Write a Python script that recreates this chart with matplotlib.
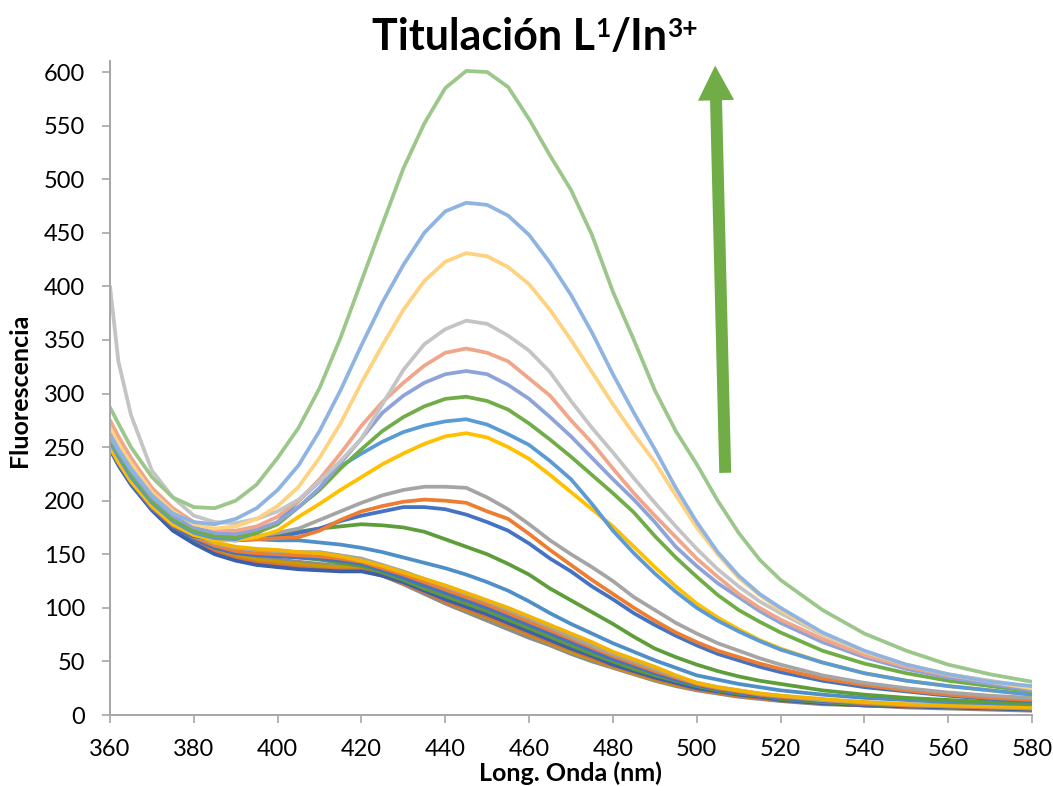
import matplotlib
matplotlib.use('Agg')
import matplotlib.pyplot as plt
from matplotlib.patches import FancyArrowPatch, ArrowStyle

# Wavelength grid (nm)
wl = [360, 362, 365, 370, 375, 380, 385, 390, 395, 400, 405, 410, 415, 420, 425, 430,
      435, 440, 445, 450, 455, 460, 465, 470, 475, 480, 485, 490, 495, 500, 505, 510,
      515, 520, 530, 540, 550, 560, 570, 580]

# Lower bunch (early titration points)
low_gold = [262, 246, 228, 202, 182, 170, 161, 157, 155, 154, 152, 151, 148, 144, 139, 133,
            127, 121, 114, 107, 100, 92, 84, 76, 68, 59, 52, 45, 37, 30, 26, 23,
            20, 18, 15, 12, 10, 9, 8, 7]
low_gray = [258, 243, 225, 200, 180, 168, 160, 156, 154, 153, 152, 152, 149, 146, 140, 134,
            127, 120, 113, 106, 98, 90, 82, 73, 65, 57, 50, 43, 36, 30, 26, 23,
            20, 18, 14, 12, 10, 9, 8, 7]
low_orange = [255, 240, 222, 197, 178, 166, 158, 153, 151, 150, 149, 148, 146, 143, 137, 131,
              124, 117, 110, 103, 95, 87, 79, 71, 63, 55, 48, 41, 35, 29, 25, 22,
              19, 17, 14, 11, 9, 8, 7, 6]
low_blue = [252, 237, 219, 195, 176, 164, 156, 151, 149, 148, 147, 146, 144, 141, 135, 128,
            121, 114, 107, 100, 92, 84, 76, 68, 60, 52, 46, 39, 33, 28, 24, 21,
            18, 16, 13, 11, 9, 8, 7, 6]
low_green = [254, 239, 221, 196, 177, 165, 157, 152, 150, 149, 147, 145, 142, 139, 133, 126,
             118, 111, 104, 97, 89, 81, 73, 65, 57, 50, 43, 37, 32, 27, 23, 20,
             18, 15, 12, 10, 9, 8, 7, 6]
low_dblue = [248, 233, 215, 191, 172, 160, 150, 144, 140, 138, 136, 135, 134, 134, 130, 124,
             116, 108, 101, 94, 86, 78, 70, 62, 55, 47, 41, 35, 30, 25, 22, 19,
             17, 14, 11, 9, 8, 7, 6, 5]
low_orange2 = [250, 235, 217, 193, 174, 161, 152, 146, 142, 140, 138, 136, 135, 135, 130, 123,
               115, 106, 99, 92, 84, 76, 68, 61, 53, 46, 40, 34, 29, 24, 21, 18,
               16, 14, 11, 9, 8, 7, 6, 5]
low_dgold = [251, 236, 218, 194, 175, 163, 154, 148, 145, 143, 141, 139, 138, 137, 132, 125,
             116, 106, 98, 91, 83, 75, 67, 59, 52, 45, 39, 33, 28, 24, 21, 18,
             16, 14, 11, 9, 8, 7, 6, 5]
low_gray2 = [253, 238, 220, 195, 176, 164, 155, 149, 146, 145, 143, 141, 139, 136, 130, 122,
             113, 104, 96, 88, 80, 72, 65, 57, 50, 44, 38, 32, 27, 23, 20, 17,
             15, 13, 10, 9, 7, 6, 5, 4]

# Intermediate curves
mid_blue2 = [252, 238, 220, 195, 178, 168, 165, 164, 164, 163, 163, 161, 159, 156, 152, 147,
             142, 137, 131, 124, 116, 106, 95, 85, 76, 67, 59, 51, 44, 37, 33, 29,
             26, 23, 19, 16, 14, 12, 11, 10]
mid_green2 = [250, 236, 218, 193, 176, 167, 164, 163, 165, 168, 171, 174, 176, 178, 177, 175,
              171, 164, 157, 150, 141, 131, 118, 107, 96, 85, 73, 62, 54, 47, 41, 36,
              32, 29, 23, 19, 16, 14, 12, 11]
mid_blue = [248, 234, 216, 192, 176, 167, 164, 163, 164, 166, 170, 174, 181, 186, 190, 194,
            194, 192, 187, 180, 172, 160, 146, 134, 120, 108, 95, 84, 74, 65, 57, 51,
            45, 40, 32, 26, 22, 18, 15, 13]
mid_orange = [250, 236, 218, 194, 177, 168, 165, 164, 164, 165, 166, 172, 182, 190, 195, 199,
              201, 200, 198, 190, 183, 169, 154, 140, 126, 113, 100, 88, 77, 68, 60, 54,
              48, 43, 34, 28, 23, 19, 16, 14]
mid_gray = [255, 241, 222, 197, 180, 170, 166, 166, 167, 170, 174, 182, 190, 198, 205, 210,
            213, 213, 212, 203, 192, 178, 163, 150, 138, 125, 110, 98, 86, 76, 67, 60,
            53, 47, 37, 30, 25, 21, 18, 16]

# Upper curves
up_gold = [250, 236, 218, 195, 178, 168, 163, 163, 166, 172, 185, 197, 210, 222, 234, 244,
           253, 260, 263, 259, 250, 239, 224, 208, 192, 176, 157, 138, 120, 104, 91, 80,
           70, 62, 49, 39, 32, 27, 23, 19]
up_blue = [255, 241, 222, 198, 181, 170, 165, 164, 170, 180, 200, 218, 232, 244, 255, 264,
           270, 274, 276, 271, 262, 252, 237, 220, 197, 172, 151, 132, 115, 100, 88, 78,
           69, 61, 49, 39, 32, 27, 23, 19]
up_green = [258, 244, 225, 200, 183, 172, 167, 166, 170, 178, 194, 210, 230, 248, 265, 278,
            288, 295, 297, 293, 285, 272, 257, 241, 224, 207, 189, 167, 147, 129, 112, 98,
            87, 77, 60, 48, 39, 32, 27, 22]
up_lavender = [260, 246, 228, 203, 186, 175, 170, 169, 173, 180, 194, 212, 235, 258, 282, 298,
               310, 318, 321, 318, 308, 295, 278, 260, 240, 220, 201, 180, 157, 139, 123, 110,
               97, 86, 68, 54, 43, 35, 29, 23]
up_salmon = [275, 260, 240, 212, 193, 180, 173, 172, 176, 185, 200, 220, 244, 270, 292, 310,
             326, 338, 342, 338, 330, 314, 298, 275, 254, 230, 207, 186, 166, 146, 129, 113,
             100, 89, 71, 56, 45, 37, 31, 25]
up_lgray = [400, 330, 280, 228, 203, 186, 180, 179, 183, 190, 201, 218, 237, 258, 290, 322,
            346, 360, 368, 365, 354, 340, 320, 293, 268, 245, 221, 198, 176, 155, 136, 120,
            106, 95, 75, 59, 47, 38, 32, 26]
up_lgold = [268, 253, 235, 208, 190, 178, 174, 176, 183, 195, 213, 240, 272, 310, 345, 378,
            405, 423, 431, 428, 418, 402, 378, 350, 320, 290, 262, 236, 205, 175, 150, 128,
            112, 98, 76, 59, 47, 38, 31, 25]
up_lblue = [262, 248, 230, 205, 188, 180, 178, 183, 193, 210, 233, 265, 303, 345, 385, 420,
            450, 470, 478, 476, 466, 448, 422, 392, 357, 318, 282, 248, 212, 180, 152, 130,
            113, 100, 77, 60, 47, 38, 31, 27]
up_lgreen = [287, 272, 250, 222, 203, 194, 193, 200, 215, 240, 268, 305, 352, 405, 458, 510,
             552, 585, 601, 600, 586, 556, 522, 490, 448, 395, 350, 303, 265, 234, 200, 170,
             145, 126, 98, 76, 60, 47, 38, 31]

series = [
    (low_gray2, '#8C8C8C'), (low_dgold, '#C99A06'), (low_orange2, '#D9732E'),
    (low_dblue, '#3A5FAE'), (low_green, '#5E9A3C'), (low_blue, '#4472C4'),
    (low_orange, '#ED7D31'), (low_gray, '#A5A5A5'), (low_gold, '#F2B400'),
    (mid_blue2, '#4F8FC8'), (mid_green2, '#5E9E3A'), (mid_blue, '#4472C4'),
    (mid_orange, '#ED7D31'), (mid_gray, '#A5A5A5'),
    (up_gold, '#FFC000'), (up_blue, '#5B9BD5'), (up_green, '#70AD47'),
    (up_lavender, '#8EA3D8'), (up_salmon, '#F1A68A'), (up_lgray, '#C4C4C4'),
    (up_lgold, '#FFD27F'), (up_lblue, '#8FB4E2'), (up_lgreen, '#9CC78A'),
]

xticks = [360, 380, 400, 420, 440, 460, 480, 500, 520, 540, 560, 580]
yticks = [0, 50, 100, 150, 200, 250, 300, 350, 400, 450, 500, 550, 600]

FONT = ['Lato', 'DejaVu Sans']
plt.rcParams['font.family'] = FONT

W, H = 1053, 786
fig = plt.figure(figsize=(W / 100, H / 100), dpi=100)
y_top = 61.3
ax = fig.add_axes([110 / W, 1 - 715 / H, 922 / W, (715 - y_top) / H])

for vals, col in series:
    ax.plot(wl, vals, color=col, lw=2.7, solid_capstyle='round', solid_joinstyle='round')

ax.set_xlim(360, 580)
ax.set_ylim(0, 610)
ax.set_xticks(xticks)
ax.set_yticks(yticks)
ax.tick_params(axis='both', direction='out', length=6, width=1.2, color='#A6A6A6',
               labelsize=17, labelcolor='black')
ax.tick_params(axis='x', pad=11)
ax.tick_params(axis='y', pad=12)
for s in ['top', 'right']:
    ax.spines[s].set_visible(False)
for s in ['left', 'bottom']:
    ax.spines[s].set_color('#A6A6A6')
    ax.spines[s].set_linewidth(1.4)

# Arrow
arrow = FancyArrowPatch((506.8, 226), (504.4, 606),
                        arrowstyle=ArrowStyle.Simple(head_length=2.5, head_width=2.6, tail_width=0.86),
                        mutation_scale=10, color='#70AD47', lw=0, clip_on=False, zorder=5,
                        shrinkA=0, shrinkB=0)
ax.add_patch(arrow)

# Title built from pieces (superscripts)
BIG, SMALL = 31, 19
t1 = fig.text(372 / W, 1 - 50 / H, 'Titulación L', ha='left', va='baseline',
              fontsize=BIG, fontweight='bold', family=FONT)
s1 = fig.text(0, 0, '', fontsize=SMALL)
s1.remove()
s1 = plt.annotate('1', xy=(1, 1), xycoords=t1, ha='left', va='top',
                  fontsize=SMALL, fontweight='bold', family=FONT, annotation_clip=False)
t2 = plt.annotate('/In', xy=(1, 0), xycoords=(s1, t1), ha='left', va='bottom',
                  fontsize=BIG, fontweight='bold', family=FONT, annotation_clip=False)
s2 = plt.annotate('3+', xy=(1, 1), xycoords=t2, ha='left', va='top',
                  fontsize=SMALL, fontweight='bold', family=FONT, annotation_clip=False)

fig.text(20 / W, 1 - 390 / H, 'Fluorescencia', ha='center', va='center', rotation=90,
         fontsize=18, fontweight='bold', family=FONT)
fig.text(570 / W, 1 - 773 / H, 'Long. Onda (nm)', ha='center', va='center',
         fontsize=18, fontweight='bold', family=FONT)

fig.savefig('out.png', dpi=100, facecolor='white')
